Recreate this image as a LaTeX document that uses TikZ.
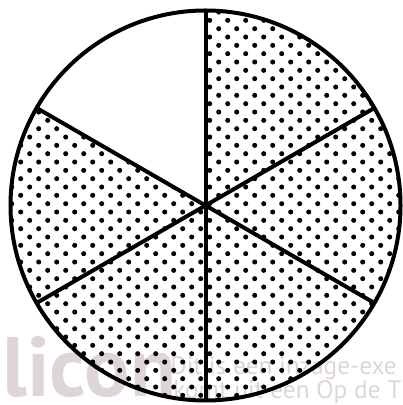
\documentclass[tikz,border=0pt]{standalone}
\usepackage{fontspec}
\setmainfont{PT Sans}
\definecolor{wmgray}{RGB}{222,214,214}
\begin{document}
\begin{tikzpicture}[x=0.025cm, y=0.025cm]
  \useasboundingbox (0,0) rectangle (402,405);
  \coordinate (c) at (205.5,199.5);
  % Watermark
  \node[font=\fontsize{60}{60}\selectfont\bfseries, text=wmgray, anchor=base west, inner sep=0] (wmlogo) at (2,9) {licon};
  \node[font=\fontsize{18}{18}\selectfont, text=wmgray, anchor=base west, inner sep=0] (wmline1) at (170,30) {Dit is een inzage-exe};
  \node[font=\fontsize{18}{18}\selectfont, text=wmgray, anchor=base west, inner sep=0] (wmline2) at (173,6) {komt uit een Op de T};
  % Dotted sectors
  \begin{scope}
    \clip (c) -- ++(150:195) arc (150:450:195) -- cycle;
    \foreach \n in {0,...,47} {
      \foreach \k in {-14,...,8} {
        \fill ({263.7+18*\k-9*mod(\n,2)},{401.3-8.333*\n}) circle (1.8pt);
      }
    }
  \end{scope}
  % Outline
  \draw[line width=0.1cm] (c) circle (195);
  % Spokes
  \foreach \a in {90, 30, 330, 270, 210, 150} {
    \draw[line width=0.1cm] (c) -- ++(\a:195);
  }
\end{tikzpicture}
\end{document}
